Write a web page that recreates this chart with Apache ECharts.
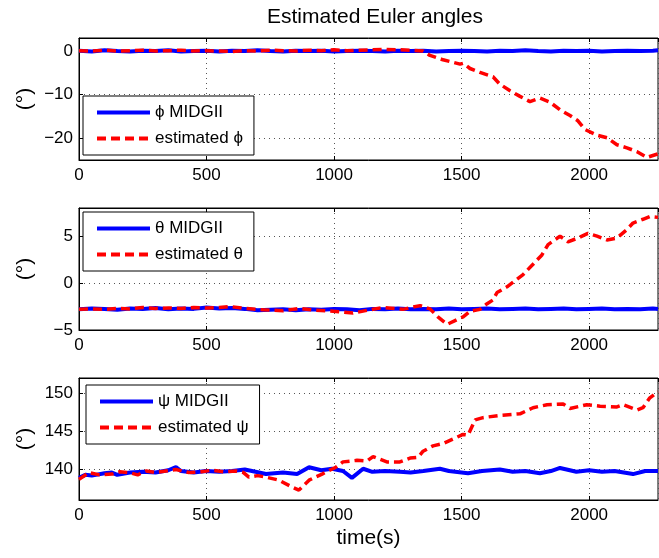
<!DOCTYPE html>
<html>
<head>
<meta charset="utf-8">
<script src="https://cdn.jsdelivr.net/npm/echarts@6/dist/echarts.min.js"></script>
<style>html,body{margin:0;padding:0;background:#fff}#c{width:659px;height:558px}</style>
</head>
<body>
<div id="c"></div>
<script>
// ---- data ----
const titleText = 'Estimated Euler angles';
const xTicks = [0, 500, 1000, 1500, 2000];
const sampleT = [0,50,100,150,200,250,300,350,400,450,500,550,600,650,700,750,800,850,900,950,1000,1050,1100,1150,1200,1250,1300,1350,1400,1450,1500,1550,1600,1650,1700,1750,1800,1850,1900,1950,2000,2050,2100,2150,2200,2250,2270];

const phiMidg = [0.1,-0.1,0.2,0,-0.1,0.1,0,0.2,-0.1,0,0.1,-0.1,0.1,0,0.2,0,-0.1,0.1,0,0.1,-0.1,0,0.1,0,-0.1,0.1,0,0.1,-0.1,0,0.1,0,-0.1,0.1,0,0.2,0,-0.1,0.1,0,0.1,-0.1,0,0.1,0,0.1,0.2];
const phiEstT = [0,50,100,150,200,250,300,350,400,450,500,550,600,650,700,750,800,850,900,950,1000,1050,1100,1150,1200,1250,1300,1349,1376,1427,1494,1506,1533,1572,1623,1650,1690,1729,1768,1807,1846,1886,1925,1956,1984,2031,2070,2109,2148,2188,2227,2270];
const phiEst = [0.1,0,0.2,0,0.1,0.2,0,0.1,0.2,0,0.1,0,-0.1,0.1,0,0.2,0.1,0,0.2,0.1,0.3,0.1,0.2,0.3,0.4,0.3,0.2,0,-1,-2,-3,-2.8,-4,-4.9,-5.9,-7.6,-9.1,-10.4,-11.6,-10.8,-11.7,-13.5,-14.8,-16,-18,-19.3,-19.9,-21.5,-22.2,-23.1,-24.4,-23.6];

const thetaMidg = [-2.8,-2.7,-2.75,-2.85,-2.7,-2.75,-2.65,-2.8,-2.7,-2.75,-2.6,-2.7,-2.65,-2.75,-2.9,-2.85,-2.8,-2.9,-2.8,-2.85,-2.75,-2.8,-2.9,-2.75,-2.8,-2.7,-2.8,-2.75,-2.8,-2.7,-2.8,-2.75,-2.7,-2.8,-2.75,-2.7,-2.8,-2.75,-2.7,-2.8,-2.75,-2.7,-2.8,-2.75,-2.8,-2.7,-2.75];
const thetaEstT = [0,50,100,150,200,250,300,350,400,450,500,550,592,650,722,800,866,930,996,1074,1130,1192,1270,1337,1376,1407,1443,1482,1506,1533,1572,1600,1623,1639,1678,1702,1741,1780,1815,1839,1886,1917,1956,1995,2031,2070,2109,2148,2172,2211,2238,2270];
const thetaEst = [-2.8,-2.75,-2.8,-2.7,-2.75,-2.6,-2.7,-2.65,-2.7,-2.6,-2.65,-2.6,-2.5,-2.7,-2.85,-2.95,-2.7,-2.9,-3.0,-3.2,-2.9,-2.6,-2.8,-2.4,-2.75,-3.6,-4.4,-3.9,-3.6,-3.0,-2.8,-2.2,-1.8,-1.0,-0.4,0.1,0.9,2.0,3.0,4.1,5.0,4.4,4.8,5.3,5.0,4.6,4.8,5.7,6.4,6.8,7.1,7.0];

const psiMidgT = [0,25,50,100,129,150,200,250,300,350,380,400,450,498,550,600,650,678,733,800,855,902,950,992,1035,1070,1114,1150,1200,1258,1300,1350,1415,1450,1525,1580,1650,1700,1750,1807,1850,1886,1950,2000,2050,2100,2172,2220,2270];
const psiMidg = [138.9,139.3,139.2,139.5,139.6,139.3,139.6,139.7,139.6,139.9,140.3,139.8,139.6,139.8,139.7,139.8,140.0,139.8,139.4,139.6,139.4,140.3,139.9,140.1,139.8,138.9,140.1,139.7,139.8,139.7,139.6,139.8,140.1,139.8,139.5,139.8,140.0,139.7,139.8,139.5,139.8,140.2,139.7,139.9,139.7,139.8,139.4,139.8,139.8];
const psiEstT = [0,39,80,129,160,196,230,263,300,340,380,431,480,521,570,615,645,666,700,733,784,835,862,902,953,1007,1035,1090,1129,1153,1207,1258,1298,1329,1349,1388,1427,1466,1506,1525,1553,1584,1650,1729,1780,1835,1898,1925,1991,2043,2109,2133,2188,2211,2238,2270];
const psiEst = [138.7,139.6,139.3,139.4,139.7,139.6,139.3,139.8,139.6,139.8,140.0,139.6,139.7,139.9,139.7,139.8,139.6,139.0,139.2,139.0,138.6,137.7,137.3,138.6,139.4,140.3,141.0,141.2,141.1,141.7,141.0,141.0,141.5,141.6,142.4,143.1,143.4,144.0,144.6,144.5,146.5,146.8,147.1,147.3,148.1,148.5,148.6,148.0,148.5,148.3,148.2,148.5,147.8,148.1,149.4,150.2];

const names = {
  phiM: '\u03D5 MIDGII', phiE: 'estimated \u03D5',
  thM: '\u03B8 MIDGII', thE: 'estimated \u03B8',
  psM: '\u03C8 MIDGII', psE: 'estimated \u03C8'
};

// ---- chart ----
const FONT = '"Liberation Sans", Arial, Helvetica, sans-serif';
const pair = (T, V) => T.map((t, i) => [t, V[i]]);
const fmt = v => String(v).replace('-', '\u2212');
const grids = [
  {left: 79, top: 38, width: 579, height: 122},
  {left: 79, top: 208, width: 579, height: 122},
  {left: 79, top: 378, width: 579, height: 122}
].map(g => Object.assign(g, {show: true, borderColor: '#000', borderWidth: 1, backgroundColor: '#fff'}));

const gridLine = {show: true, lineStyle: {color: '#555', type: [1, 4], width: 1}};
function xAx(i, bottom) {
  return {
    type: 'value', gridIndex: i, min: 0, max: 2270, interval: 500,
    position: bottom ? 'bottom' : 'top',
    axisLine: {show: true, onZero: false, lineStyle: {color: '#000'}},
    axisTick: {show: true, inside: true, length: 4, lineStyle: {color: '#000'}},
    axisLabel: bottom ? {show: true, showMaxLabel: false, margin: 7, fontSize: 17, color: '#000', fontFamily: FONT,
      formatter: v => xTicks.includes(v) ? fmt(v) : ''} : {show: false},
    splitLine: bottom ? gridLine : {show: false},
    name: (bottom && i === 2) ? 'time(s)' : '',
    nameLocation: 'middle', nameGap: 28, nameMoveOverlap: false,
    nameTextStyle: {fontSize: 21, color: '#000', fontFamily: FONT}
  };
}
function yAx(i, min, max, step) {
  return {
    type: 'value', gridIndex: i, min: min, max: max,
    minInterval: step, maxInterval: step, splitNumber: 3,
    axisLine: {show: true, onZero: false, lineStyle: {color: '#000'}},
    axisTick: {show: true, inside: true, length: 4, lineStyle: {color: '#000'}},
    axisLabel: {showMinLabel: (min % step === 0), showMaxLabel: false, margin: 6, fontSize: 17, color: '#000', fontFamily: FONT, formatter: fmt},
    splitLine: gridLine,
    name: '(\u00B0)', nameLocation: 'middle', nameGap: 43, nameMoveOverlap: false,
    nameTextStyle: {fontSize: 21, color: '#000', fontFamily: FONT}
  };
}
function blue(name, i, data) {
  return {type: 'line', name: name, xAxisIndex: i, yAxisIndex: i, data: data, symbol: 'none',
    lineStyle: {color: '#0000ff', width: 4}, itemStyle: {color: '#0000ff'}, z: 2};
}
function red(name, i, data) {
  return {type: 'line', name: name, xAxisIndex: i, yAxisIndex: i, data: data, symbol: 'none',
    lineStyle: {color: '#ff0000', width: 3.5, type: [9, 5]}, itemStyle: {color: '#ff0000'}, z: 3};
}
function leg(a, b, left, top) {
  return {data: [a, b], left: left, top: top, orient: 'vertical', itemWidth: 53, itemHeight: 16, itemGap: 9,
    padding: [8, 11, 8, 12], borderColor: '#000', borderWidth: 1, borderRadius: 0, backgroundColor: '#fff',
    selectedMode: false, itemStyle: {opacity: 0, borderWidth: 0}, lineStyle: {width: 4},
    textStyle: {fontSize: 17, color: '#000', fontFamily: FONT}};
}

const chart = echarts.init(document.getElementById('c'), null, {renderer: 'canvas'});
chart.setOption({
  animation: false,
  backgroundColor: '#fff',
  title: {text: titleText, left: 262, top: 2, textStyle: {fontSize: 21, fontWeight: 'normal', color: '#000', fontFamily: FONT}},
  grid: grids,
  xAxis: [xAx(0, true), xAx(1, true), xAx(2, true), xAx(0, false), xAx(1, false), xAx(2, false)],
  yAxis: [yAx(0, -25, 3, 10), yAx(1, -5, 8, 5), yAx(2, 136, 152, 5)],
  legend: [leg(names.phiM, names.phiE, 83, 96), leg(names.thM, names.thE, 83, 212), leg(names.psM, names.psE, 86, 385)],
  series: [
    blue(names.phiM, 0, pair(sampleT, phiMidg)),
    red(names.phiE, 0, pair(phiEstT, phiEst)),
    blue(names.thM, 1, pair(sampleT, thetaMidg)),
    red(names.thE, 1, pair(thetaEstT, thetaEst)),
    blue(names.psM, 2, pair(psiMidgT, psiMidg)),
    red(names.psE, 2, pair(psiEstT, psiEst))
  ]
});
</script>
</body>
</html>
